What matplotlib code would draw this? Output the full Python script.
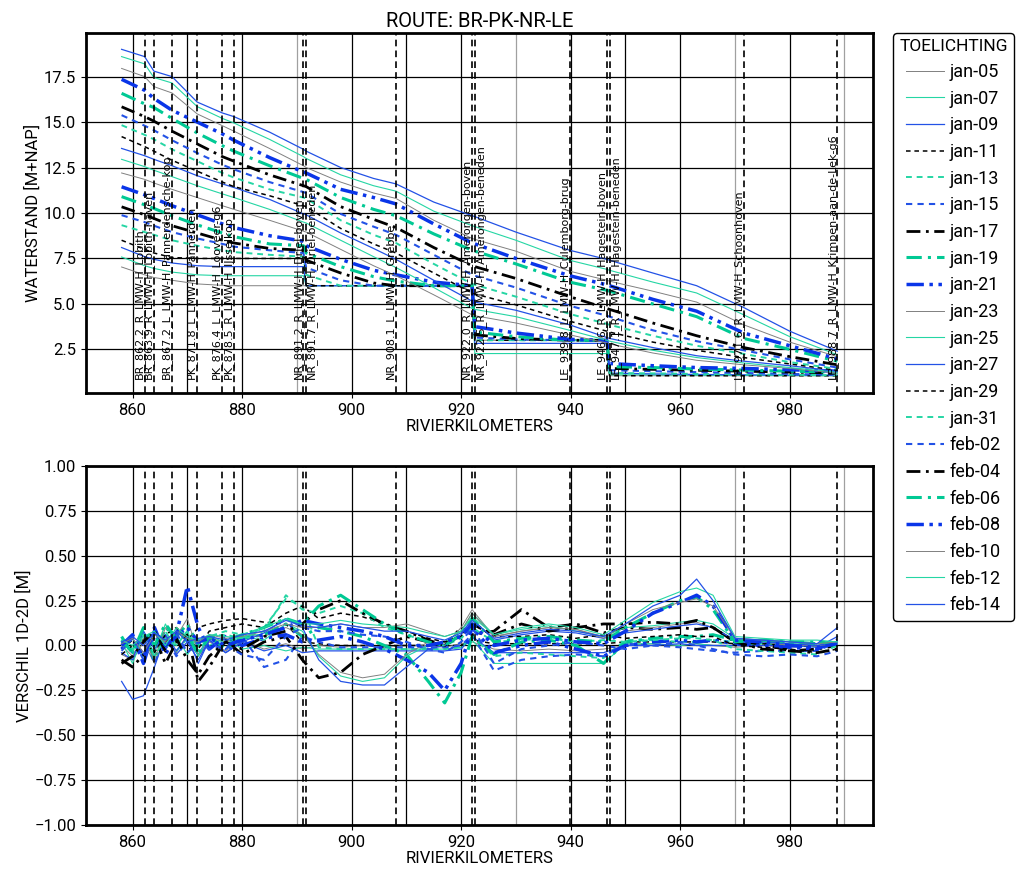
import matplotlib
matplotlib.use("Agg")
import matplotlib.pyplot as plt
import matplotlib.transforms as mtransforms

plt.rcParams['font.family'] = ['Roboto', 'DejaVu Sans']
plt.rcParams['font.size'] = 12

# rivierkilometers waterstanden (bovenste figuur)
km = [858.0, 862.2, 863.9, 867.2, 871.8, 876.4, 878.5, 885.0, 891.2, 891.7, 898.0, 904.0, 908.1,
      915.0, 922.0, 922.5, 930.0, 939.8, 946.6, 947.1, 955.0, 963.0, 971.6, 980.0, 988.7]

h_jan05 = [7.03, 6.6, 6.45, 6.3, 6.1, 6.02, 6.0, 6.0, 6.0, 6.0, 6.0, 6.0, 6.0, 6.0, 6.0, 3.0, 3.0, 3.0, 3.0, 1.05, 1.05, 1.05, 1.05, 1.05, 1.05]
h_jan07 = [7.58, 7.1, 6.95, 6.75, 6.6, 6.55, 6.55, 6.55, 6.55, 6.0, 6.0, 6.0, 6.0, 6.0, 6.0, 2.27, 2.27, 2.27, 2.27, 1.1, 1.1, 1.08, 1.07, 1.06, 1.05]
h_jan09 = [8.1, 7.6, 7.45, 7.25, 7.1, 7.05, 7.05, 7.05, 7.05, 6.0, 6.0, 6.0, 6.0, 6.0, 6.0, 2.83, 2.83, 2.83, 2.83, 1.2, 1.15, 1.12, 1.1, 1.08, 1.07]
h_jan11 = [8.5, 8.0, 7.8, 7.55, 7.5, 7.5, 7.5, 7.5, 7.5, 6.0, 6.0, 6.0, 6.0, 6.0, 6.0, 3.0, 3.0, 3.0, 3.0, 1.05, 1.05, 1.05, 1.05, 1.05, 1.05]
h_jan13 = [9.33, 8.95, 8.8, 8.5, 8.2, 7.95, 7.85, 7.7, 7.6, 6.6, 6.0, 6.0, 6.0, 6.0, 6.0, 3.0, 3.0, 3.0, 3.0, 1.2, 1.18, 1.15, 1.12, 1.1, 1.08]
h_jan15 = [9.88, 9.5, 9.3, 8.95, 8.6, 8.3, 8.15, 7.95, 7.8, 7.0, 6.3, 6.0, 6.0, 6.0, 6.0, 3.15, 3.05, 3.0, 3.0, 1.35, 1.3, 1.25, 1.2, 1.15, 1.1]
h_jan17 = [10.34, 9.9, 9.7, 9.3, 8.9, 8.5, 8.35, 8.05, 7.95, 7.4, 6.7, 6.15, 6.0, 6.0, 6.0, 3.3, 3.1, 3.0, 3.0, 1.45, 1.4, 1.35, 1.3, 1.25, 1.2]
h_jan19 = [10.9, 10.45, 10.25, 9.85, 9.35, 8.9, 8.7, 8.3, 8.2, 7.8, 7.05, 6.5, 6.25, 6.0, 6.0, 3.45, 3.2, 3.0, 3.0, 1.55, 1.5, 1.42, 1.36, 1.3, 1.25]
h_jan21 = [11.44, 11.0, 10.8, 10.4, 9.9, 9.4, 9.2, 8.75, 8.45, 8.2, 7.45, 6.85, 6.6, 6.2, 6.0, 3.75, 3.4, 3.05, 3.0, 1.72, 1.6, 1.5, 1.45, 1.38, 1.3]
h_jan23 = [12.2, 11.85, 11.65, 11.3, 10.85, 10.4, 10.2, 9.6, 9.0, 8.95, 8.0, 7.1, 6.55, 5.5, 4.4, 4.35, 3.95, 3.3, 2.85, 2.8, 2.3, 1.9, 1.65, 1.45, 1.2]
h_jan25 = [12.95, 12.55, 12.35, 12.0, 11.5, 11.05, 10.85, 10.2, 9.5, 9.45, 8.5, 7.6, 7.0, 5.9, 4.75, 4.7, 4.3, 3.55, 3.0, 2.95, 2.45, 2.05, 1.75, 1.5, 1.25]
h_jan27 = [13.55, 13.15, 12.95, 12.6, 12.05, 11.6, 11.4, 10.75, 9.95, 9.9, 8.9, 8.05, 7.45, 6.3, 5.15, 5.1, 4.65, 3.85, 3.15, 3.1, 2.6, 2.15, 1.85, 1.6, 1.3]
h_jan29 = [14.2, 13.65, 13.4, 12.9, 12.3, 11.7, 11.45, 10.95, 10.4, 10.35, 9.15, 8.3, 7.8, 6.7, 5.6, 5.55, 4.95, 4.05, 3.5, 3.45, 2.9, 2.45, 2.05, 1.7, 1.35]
h_jan31 = [14.83, 14.3, 14.05, 13.5, 12.85, 12.2, 11.95, 11.3, 10.85, 10.8, 9.6, 8.8, 8.35, 7.2, 6.1, 6.05, 5.4, 4.45, 3.9, 3.85, 3.25, 2.7, 2.25, 1.8, 1.42]
h_feb02 = [15.38, 14.8, 14.55, 14.0, 13.3, 12.65, 12.4, 11.7, 11.15, 11.1, 9.95, 9.25, 8.8, 7.7, 6.6, 6.55, 5.9, 4.9, 4.35, 4.3, 3.55, 2.95, 2.45, 1.95, 1.5]
h_feb04 = [15.84, 15.3, 15.05, 14.5, 13.8, 13.1, 12.85, 12.1, 11.5, 11.45, 10.35, 9.65, 9.2, 8.1, 7.1, 7.05, 6.4, 5.4, 4.75, 4.7, 3.95, 3.25, 2.6, 2.1, 1.65]
h_feb06 = [16.58, 16.0, 15.8, 15.2, 14.4, 13.7, 13.4, 12.6, 11.9, 11.85, 10.85, 10.2, 9.85, 8.85, 7.95, 7.9, 7.2, 6.2, 5.75, 5.7, 5.0, 4.3, 3.1, 2.5, 1.85]
h_feb08 = [17.35, 16.75, 16.3, 15.65, 15.0, 14.35, 14.0, 13.05, 12.25, 12.2, 11.3, 10.85, 10.5, 9.4, 8.35, 8.3, 7.5, 6.55, 6.05, 6.0, 5.25, 4.6, 3.4, 2.7, 1.98]
h_feb10 = [17.95, 17.5, 16.95, 16.6, 15.45, 14.8, 14.5, 13.55, 12.6, 12.5, 11.7, 11.1, 10.8, 9.6, 8.6, 8.55, 7.9, 6.8, 6.3, 6.25, 5.7, 5.1, 3.85, 2.9, 2.1]
h_feb12 = [18.6, 18.2, 17.45, 17.15, 15.85, 15.2, 14.95, 14.05, 13.1, 13.0, 12.1, 11.5, 11.2, 10.1, 9.3, 9.25, 8.5, 7.4, 6.9, 6.85, 6.2, 5.6, 4.4, 3.2, 2.2]
h_feb14 = [19.0, 18.6, 17.8, 17.5, 16.1, 15.5, 15.3, 14.45, 13.5, 13.4, 12.5, 11.9, 11.6, 10.6, 9.85, 9.8, 8.95, 7.95, 7.45, 7.4, 6.7, 6.0, 4.8, 3.5, 2.4]

# verschil 1D-2D (onderste figuur)
km_v = [858, 860, 862, 864, 866, 868, 870, 872, 874, 877, 880, 884, 888, 891, 894, 898, 902, 906, 910,
        914, 917, 920, 922, 926, 931, 936, 941, 946, 950, 955, 960, 963, 966, 970, 975, 980, 985, 988.7]

d_jan05 = [-0.05, -0.08, 0.02, -0.10, 0.05, -0.04, 0.06, -0.06, 0.02, -0.03, 0.03, -0.02, 0.01, -0.02, 0.00, -0.01, 0.00, -0.01, 0.00,
           0.00, -0.01, 0.01, 0.02, -0.02, -0.03, -0.02, -0.03, -0.02, 0.00, 0.01, 0.00, 0.01, 0.00, -0.01, 0.00, -0.01, 0.00, 0.02]
d_jan07 = [0.00, 0.04, -0.06, 0.08, -0.02, 0.05, -0.05, 0.03, 0.00, 0.04, -0.02, 0.00, -0.03, -0.01, -0.02, -0.02, -0.02, -0.02, -0.02,
           -0.02, -0.02, -0.01, 0.03, -0.10, -0.10, -0.10, -0.10, -0.10, 0.01, 0.01, 0.00, 0.01, 0.00, 0.00, 0.01, 0.00, 0.00, 0.01]
d_jan09 = [-0.20, -0.30, -0.28, -0.12, 0.06, -0.05, 0.02, -0.08, 0.03, -0.04, 0.02, -0.03, 0.00, -0.04, -0.03, -0.03, -0.03, -0.03, -0.03,
           -0.03, -0.03, -0.02, 0.05, -0.04, -0.04, -0.04, -0.04, -0.04, 0.00, 0.00, 0.01, 0.00, 0.00, 0.00, 0.00, 0.00, -0.01, 0.05]
d_jan11 = [-0.02, 0.03, -0.05, 0.06, 0.02, 0.08, 0.03, 0.10, 0.12, 0.14, 0.15, 0.13, 0.12, 0.02, 0.01, 0.00, 0.00, 0.00, 0.00,
           0.00, 0.00, 0.00, 0.03, 0.01, 0.01, 0.01, 0.01, 0.01, 0.02, 0.02, 0.02, 0.02, 0.02, 0.01, 0.01, 0.00, 0.00, 0.01]
d_jan13 = [0.03, -0.02, 0.05, 0.00, 0.08, -0.03, 0.04, 0.02, 0.05, 0.08, 0.06, 0.10, 0.26, 0.22, -0.01, -0.02, -0.02, -0.02, -0.02,
           -0.02, -0.02, -0.01, 0.05, -0.06, -0.04, -0.05, -0.06, -0.07, 0.03, 0.03, 0.02, 0.02, 0.03, 0.02, 0.01, 0.01, 0.00, 0.01]
d_jan15 = [0.02, -0.04, 0.06, -0.10, 0.05, -0.06, 0.03, -0.05, 0.04, -0.02, 0.05, -0.12, -0.08, 0.05, 0.02, -0.01, -0.01, -0.01, -0.01,
           -0.01, -0.01, 0.00, 0.06, -0.14, -0.08, -0.06, -0.05, -0.06, 0.01, 0.00, -0.01, -0.02, -0.03, -0.04, -0.03, -0.03, -0.03, 0.02]
d_jan17 = [-0.08, -0.12, -0.05, 0.05, -0.10, 0.02, 0.06, -0.20, -0.12, 0.03, -0.05, 0.02, 0.05, -0.08, -0.18, -0.15, -0.05, 0.00, 0.05,
           0.02, 0.00, 0.10, 0.06, 0.08, 0.20, 0.10, 0.12, 0.07, 0.10, 0.09, 0.10, 0.09, 0.10, 0.02, 0.01, -0.03, -0.02, 0.00]
d_jan19 = [0.05, -0.05, 0.08, -0.08, 0.10, 0.05, 0.12, 0.00, 0.05, -0.02, 0.04, 0.06, 0.12, 0.05, 0.10, 0.08, 0.05, 0.00, -0.05,
           -0.20, -0.32, -0.15, 0.05, -0.05, 0.02, 0.03, 0.00, -0.10, 0.02, 0.04, 0.05, 0.05, 0.06, 0.03, 0.02, 0.02, 0.01, 0.00]
d_jan21 = [-0.02, 0.05, -0.10, 0.10, -0.05, 0.06, 0.33, 0.10, -0.02, 0.05, 0.00, 0.04, 0.06, 0.02, 0.03, 0.05, 0.02, -0.02, -0.08,
           -0.15, -0.25, -0.10, 0.10, -0.04, 0.00, 0.02, -0.02, -0.06, 0.00, 0.02, 0.03, 0.02, 0.03, 0.01, 0.00, -0.01, -0.02, 0.03]
d_jan23 = [0.00, -0.06, 0.04, -0.08, 0.10, 0.05, 0.15, -0.05, 0.04, 0.02, 0.06, 0.05, 0.10, 0.06, -0.05, -0.15, -0.18, -0.16, -0.05,
           0.02, 0.00, 0.10, 0.20, 0.05, 0.08, 0.10, 0.09, 0.05, 0.08, 0.10, 0.12, 0.13, 0.10, 0.03, 0.02, 0.00, 0.00, 0.01]
d_jan25 = [0.02, -0.10, 0.06, -0.04, 0.12, 0.00, 0.08, -0.06, 0.06, 0.01, 0.05, 0.03, 0.12, 0.08, -0.06, -0.17, -0.20, -0.18, -0.06,
           0.00, 0.02, 0.08, 0.18, 0.06, 0.09, 0.11, 0.08, 0.05, 0.10, 0.11, 0.13, 0.14, 0.12, 0.04, 0.03, 0.02, 0.01, 0.02]
d_jan27 = [-0.04, -0.08, 0.08, -0.02, 0.06, -0.03, 0.05, -0.10, 0.03, -0.04, 0.02, 0.07, 0.15, 0.10, -0.08, -0.20, -0.22, -0.22, -0.12,
           -0.02, 0.00, 0.06, 0.15, 0.03, 0.06, 0.08, 0.07, 0.04, 0.07, 0.09, 0.11, 0.12, 0.10, 0.03, 0.02, 0.01, 0.00, 0.02]
d_jan29 = [-0.05, 0.00, 0.03, -0.04, 0.06, 0.10, 0.04, -0.02, 0.08, 0.10, 0.12, 0.10, 0.18, 0.22, 0.15, 0.18, 0.16, 0.12, 0.08,
           0.04, 0.02, 0.05, 0.12, 0.05, 0.05, 0.06, 0.04, 0.06, 0.04, 0.05, 0.06, 0.05, 0.05, 0.00, -0.01, -0.02, -0.04, -0.02]
d_jan31 = [0.02, -0.03, 0.06, -0.06, 0.04, 0.00, 0.08, -0.03, 0.05, 0.06, 0.04, 0.08, 0.28, 0.20, 0.18, 0.22, 0.18, 0.10, 0.06,
           0.02, 0.00, 0.04, 0.10, 0.02, 0.03, 0.04, 0.02, 0.03, 0.02, 0.03, 0.04, 0.04, 0.03, -0.02, -0.03, -0.04, -0.05, 0.00]
d_feb02 = [-0.03, 0.04, -0.08, 0.05, -0.02, 0.07, -0.04, 0.02, -0.02, 0.00, -0.05, -0.08, 0.05, 0.10, 0.08, 0.08, 0.06, 0.05, 0.02,
           -0.02, -0.04, 0.02, 0.10, -0.10, -0.02, 0.00, 0.02, 0.00, -0.02, 0.00, 0.02, 0.00, -0.02, -0.05, -0.06, -0.05, -0.06, -0.03]
d_feb04 = [-0.10, -0.06, 0.02, 0.08, -0.03, 0.04, -0.08, -0.16, -0.06, 0.02, -0.02, 0.05, 0.08, 0.12, 0.20, 0.25, 0.18, 0.12, 0.08,
           0.03, 0.00, 0.06, 0.12, 0.06, 0.12, 0.08, 0.10, 0.12, 0.12, 0.13, 0.12, 0.14, 0.10, 0.02, -0.02, -0.03, -0.04, -0.02]
d_feb06 = [0.03, -0.04, 0.10, 0.00, 0.12, 0.04, 0.06, -0.05, 0.05, 0.03, 0.06, 0.10, 0.15, 0.12, 0.22, 0.28, 0.20, 0.12, 0.06,
           0.02, 0.00, 0.06, 0.15, 0.02, 0.04, 0.05, 0.03, 0.02, 0.10, 0.18, 0.25, 0.27, 0.20, 0.02, 0.03, 0.02, 0.02, 0.01]
d_feb08 = [0.00, 0.06, -0.06, 0.08, 0.00, 0.05, 0.10, 0.02, 0.04, 0.00, 0.03, 0.06, 0.10, 0.14, 0.12, 0.10, 0.08, 0.05, 0.00,
           0.00, 0.02, 0.05, 0.12, 0.00, 0.03, 0.04, 0.02, 0.01, 0.08, 0.18, 0.24, 0.28, 0.22, 0.03, 0.02, 0.00, -0.01, 0.01]
d_feb10 = [0.01, 0.04, -0.04, 0.06, 0.02, 0.08, 0.04, 0.02, 0.06, 0.04, 0.05, 0.08, 0.12, 0.10, 0.10, 0.12, 0.10, 0.10, 0.12,
           0.08, 0.05, 0.08, 0.18, 0.05, 0.08, 0.10, 0.09, 0.04, 0.12, 0.20, 0.24, 0.26, 0.22, 0.04, 0.03, 0.02, 0.01, 0.02]
d_feb12 = [0.03, 0.00, 0.05, 0.08, 0.00, 0.10, 0.05, 0.03, 0.06, 0.05, 0.04, 0.10, 0.15, 0.12, 0.12, 0.14, 0.12, 0.11, 0.10,
           0.07, 0.05, 0.08, 0.16, 0.06, 0.10, 0.12, 0.10, 0.06, 0.14, 0.24, 0.30, 0.32, 0.28, 0.05, 0.04, 0.03, 0.03, 0.02]
d_feb14 = [0.02, 0.05, 0.00, 0.07, 0.03, 0.08, 0.02, 0.04, 0.05, 0.03, 0.06, 0.08, 0.14, 0.11, 0.10, 0.12, 0.10, 0.08, 0.08,
           0.05, 0.03, 0.07, 0.14, 0.04, 0.07, 0.09, 0.08, 0.05, 0.12, 0.22, 0.28, 0.37, 0.25, 0.04, 0.03, 0.02, 0.01, 0.10]

datums = ["jan-05", "jan-07", "jan-09", "jan-11", "jan-13", "jan-15", "jan-17", "jan-19", "jan-21", "jan-23", "jan-25",
          "jan-27", "jan-29", "jan-31", "feb-02", "feb-04", "feb-06", "feb-08", "feb-10", "feb-12", "feb-14"]
hoogtes = [h_jan05, h_jan07, h_jan09, h_jan11, h_jan13, h_jan15, h_jan17, h_jan19, h_jan21, h_jan23, h_jan25,
           h_jan27, h_jan29, h_jan31, h_feb02, h_feb04, h_feb06, h_feb08, h_feb10, h_feb12, h_feb14]
verschillen = [d_jan05, d_jan07, d_jan09, d_jan11, d_jan13, d_jan15, d_jan17, d_jan19, d_jan21, d_jan23, d_jan25,
               d_jan27, d_jan29, d_jan31, d_feb02, d_feb04, d_feb06, d_feb08, d_feb10, d_feb12, d_feb14]

# meetstations
station_km = [862.2, 863.9, 867.2, 871.8, 876.4, 878.5, 891.2, 891.7, 908.1, 922.0, 922.5, 939.8, 946.6, 947.1, 971.6, 988.7]
station_naam = ["BR_862.2_R_LMW-H_Lobith", "BR_863.9_R_LMW-H_Lobith-haven", "BR_867.2_L_LMW-H_Pannerdensche-kop",
                "PK_871.8_L_LMW-H_Pannerden", "PK_876.4_L_LMW-H_Looveer-g6", "PK_878.5_R_LMW-H_IJsselkop",
                "NR_891.2_R_LMW-H_Driel-boven", "NR_891.7_R_LMW-H_Driel-beneden", "NR_908.1_L_LMW-H_Grebbe",
                "NR_922.0_R_LMW-H_Amerongen-boven", "NR_922.5_R_LMW-H_Amerongen-beneden", "LE_939.8_L_LMW-H_Culemborg-brug",
                "LE_946.6_R_LMW-H_Hagestein-boven", "LE_947.1_R_LMW-H_Hagestein-beneden", "LE_971.6_R_LMW-H_Schoonhoven",
                "LE_988.7_R_LMW-H_Krimpen-aan-de-Lek-g6"]
# tekst links van de lijn, behalve de tweede van een dicht paar
station_ha = ['right'] * 7 + ['left', 'right', 'right', 'left', 'right', 'right', 'left', 'right', 'right']

GRIJS = '#808080'
TEAL = '#25d6a4'
BLAUW = '#2352e6'
stijlen = [
    dict(color=GRIJS, ls='-', lw=0.7),
    dict(color=TEAL, ls='-', lw=0.8),
    dict(color=BLAUW, ls='-', lw=0.9),
    dict(color='black', ls=(0, (3, 2.5)), lw=1.1),
    dict(color=TEAL, ls=(0, (3, 2.5)), lw=1.4),
    dict(color=BLAUW, ls=(0, (3, 2.5)), lw=1.5),
    dict(color='black', ls=(0, (5, 2, 1, 2)), lw=2.0),
    dict(color='#00c994', ls=(0, (5, 2, 1, 2)), lw=2.2),
    dict(color='#0a35e8', ls=(0, (5, 1.6, 1, 1.6, 1, 1.6)), lw=2.5),
]

fig = plt.figure(figsize=(10.19, 8.72), dpi=100)
ax1 = fig.add_axes([0.0844, 0.5493, 0.7723, 0.4129])
ax2 = fig.add_axes([0.0844, 0.0539, 0.7723, 0.4117])

for i, naam in enumerate(datums):
    st = stijlen[i % len(stijlen)]
    ax1.plot(km, hoogtes[i], label=naam, zorder=2, **st)
    ax2.plot(km_v, verschillen[i], zorder=2, **st)

for ax in (ax1, ax2):
    ax.set_xlim(851.5, 995.2)
    ax.set_xticks([860, 880, 900, 920, 940, 960, 980])
    for x in [860, 870, 880, 900, 910, 920, 940, 950, 960, 980]:
        ax.axvline(x, color='black', lw=0.9, zorder=1)
    for x in [890, 930, 970, 990]:
        ax.axvline(x, color='#a0a0a0', lw=0.9, zorder=1)
    ax.grid(axis='y', color='black', lw=0.9, zorder=1)
    for k in station_km:
        ax.axvline(k, color='black', ls=(0, (4, 2.5)), lw=1.2, zorder=3)
    for s in ax.spines.values():
        s.set_linewidth(2)
    ax.tick_params(labelsize=12)
    ax.set_xlabel("RIVIERKILOMETERS", fontsize=12, labelpad=1)

ax1.set_ylim(0.1, 19.9)
ax1.set_yticks([2.5, 5.0, 7.5, 10.0, 12.5, 15.0, 17.5])
ax1.set_ylabel("WATERSTAND [M+NAP]", fontsize=12, labelpad=2)
ax1.set_title("ROUTE: BR-PK-NR-LE", fontsize=14.5, pad=4)

trans = mtransforms.blended_transform_factory(ax1.transData, ax1.transAxes)
for k, naam, ha in zip(station_km, station_naam, station_ha):
    ax1.text(k, 0.04, naam, transform=trans, rotation=90, ha=ha, va='bottom',
             fontsize=8, family='DejaVu Sans', zorder=4)

ax2.set_ylim(-1, 1)
ax2.set_yticks([-1.0, -0.75, -0.5, -0.25, 0.0, 0.25, 0.5, 0.75, 1.0])
ax2.set_ylabel("VERSCHIL 1D-2D [M]", fontsize=12, labelpad=2)

leg = fig.legend(*ax1.get_legend_handles_labels(), loc='upper left', bbox_to_anchor=(0.8763, 0.9622),
                 borderaxespad=0, title="TOELICHTING", fontsize=13, title_fontsize=12.5, handlelength=2.1,
                 handletextpad=0.3, labelspacing=0.48, borderpad=0.35, fancybox=True, framealpha=1)
leg.get_frame().set_edgecolor('black')
leg.get_frame().set_linewidth(1.0)

fig.savefig("out.png", dpi=100)
